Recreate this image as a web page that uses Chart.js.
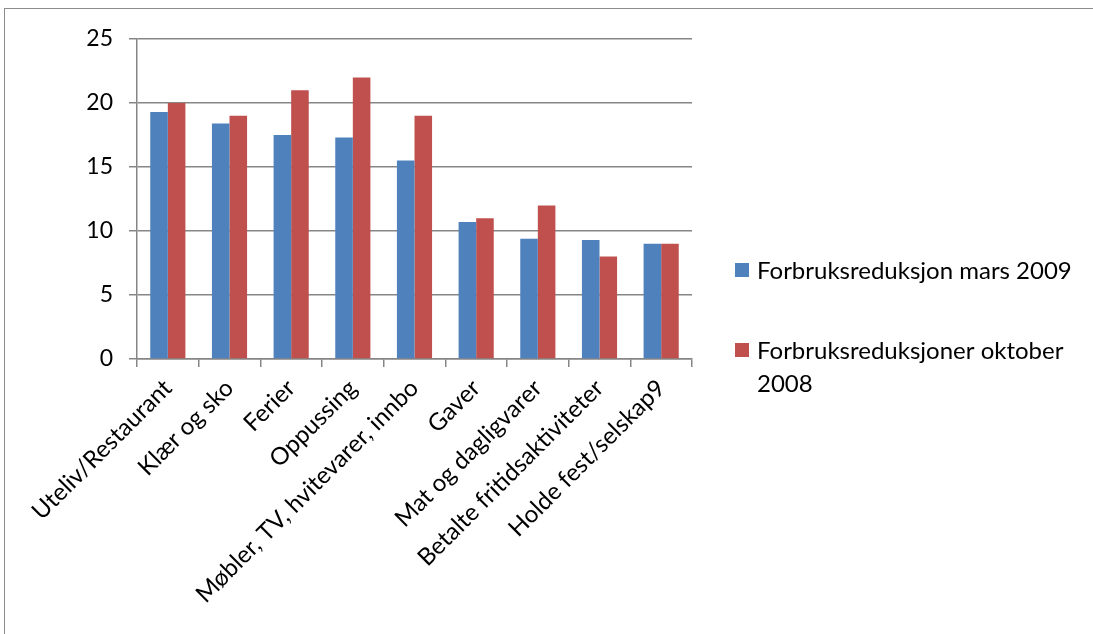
<!DOCTYPE html>
<html>
<head>
<meta charset="utf-8">
<script src="https://cdn.jsdelivr.net/npm/chart.js@4.4.0/dist/chart.umd.min.js"></script>
<style>
    html, body { margin: 0; padding: 0; background: #fff; overflow: hidden; }
    #wrap { position: relative; width: 1093px; height: 634px; }
    #frame { position: absolute; left: 4px; top: 8px; width: 1200px; height: 800px; border: 1.5px solid #8c8c8c; box-sizing: border-box; }
    canvas { position: absolute; left: 0; top: 0; }
</style>
</head>
<body>
<div id="wrap">
    <div id="frame"></div>
    <canvas id="chart" width="1093" height="634"></canvas>
</div>
<script>
var categories = ["Uteliv/Restaurant", "Klær og sko", "Ferier", "Oppussing", "Møbler, TV, hvitevarer, innbo", "Gaver", "Mat og dagligvarer", "Betalte fritidsaktiviteter", "Holde fest/selskap9"];
var mars2009 = [19.3, 18.4, 17.5, 17.3, 15.5, 10.7, 9.4, 9.3, 9.0];
var oktober2008 = [20, 19, 21, 22, 19, 11, 12, 8, 9];
var seriesNames = ["Forbruksreduksjon mars 2009", "Forbruksreduksjoner oktober 2008"];
var yTicks = [0, 5, 10, 15, 20, 25];

var FONT = "Lato, 'Open Sans', sans-serif";

// legend drawn at the right, wrapping long names like the original
var sideLegend = {
    id: "sideLegend",
    afterDraw: function(chart) {
        var ctx = chart.ctx;
        var x = 735, y = 263, maxW = 330;
        ctx.save();
        ctx.font = "24px " + FONT;
        ctx.textBaseline = "alphabetic";
        ctx.fillStyle = "#000";
        chart.data.datasets.forEach(function(ds, i) {
            var words = ds.label.split(" ");
            var lines = [], cur = "";
            words.forEach(function(w) {
                var test = cur ? cur + " " + w : w;
                if (ctx.measureText(test).width > maxW && cur) {
                    lines.push(cur);
                    cur = w;
                } else {
                    cur = test;
                }
            });
            lines.push(cur);
            var top = y + i * 80;
            ctx.fillStyle = ds.backgroundColor;
            ctx.fillRect(x, top, 14, 14);
            ctx.fillStyle = "#000";
            for (var k = 0; k < lines.length; k++) {
                ctx.fillText(lines[k], x + 22, top + 16 + k * 33);
            }
        });
        ctx.restore();
    }
};

var ctx = document.getElementById("chart").getContext("2d");
new Chart(ctx, {
    type: "bar",
    data: {
        labels: categories,
        datasets: [
            { label: seriesNames[0], data: mars2009, backgroundColor: "#4F81BD" },
            { label: seriesNames[1], data: oktober2008, backgroundColor: "#C0504D" }
        ]
    },
    options: {
        responsive: false,
        animation: false,
        devicePixelRatio: 1,
        layout: { autoPadding: false, padding: { top: 39, right: 401, left: 0, bottom: 0 } },
        datasets: { bar: { barPercentage: 1, categoryPercentage: 0.57 } },
        plugins: { legend: { display: false }, tooltip: { enabled: false } },
        scales: {
            x: {
                grid: { offset: true, drawOnChartArea: false, drawTicks: true, tickLength: 8, color: "#868686", lineWidth: 1.5 },
                border: { color: "#868686", width: 1.5 },
                ticks: { minRotation: 45, maxRotation: 45, autoSkip: false, color: "#000", font: { family: FONT, size: 24 }, padding: 7 },
                afterFit: function(scale) { scale.height = 634 - 359; }
            },
            y: {
                min: 0,
                max: 25,
                afterBuildTicks: function(scale) {
                    scale.ticks = yTicks.map(function(v) { return { value: v }; });
                },
                grid: { color: "#868686", lineWidth: 1.5, tickLength: 8 },
                border: { color: "#868686", width: 1.5 },
                ticks: { color: "#000", font: { family: FONT, size: 23 }, padding: 16 },
                afterFit: function(scale) { scale.width = 137; }
            }
        }
    },
    plugins: [sideLegend]
});
</script>
</body>
</html>
